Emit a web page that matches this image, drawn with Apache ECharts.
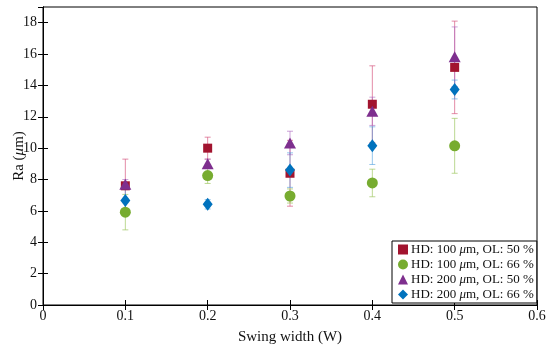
<!DOCTYPE html>
<html>
<head>
<meta charset="utf-8">
<script src="https://cdn.jsdelivr.net/npm/echarts@6/dist/echarts.min.js"></script>
<style>html,body{margin:0;padding:0;background:#fff}#c{width:550px;height:352px}</style>
</head>
<body>
<div id="c"></div>
<script>
var xValues = [0.1, 0.2, 0.3, 0.4, 0.5];
var xTicks = [0, 0.1, 0.2, 0.3, 0.4, 0.5, 0.6];
var yTicks = [0, 2, 4, 6, 8, 10, 12, 14, 16, 18];
var seriesNames = ['HD: 100 μm, OL: 50 %', 'HD: 100 μm, OL: 66 %', 'HD: 200 μm, OL: 50 %', 'HD: 200 μm, OL: 66 %'];
var hd100ol50 = [7.6, 10.0, 8.4, 12.8, 15.15];
var hd100ol66 = [5.92, 8.25, 6.95, 7.78, 10.15];
var hd200ol50 = [7.7, 9.0, 10.33, 12.35, 15.83];
var hd200ol66 = [6.66, 6.42, 8.6, 10.16, 13.74];
var err100ol50 = [1.7, 0.7, 2.1, 2.45, 2.95];
var err100ol66 = [1.13, 0.5, 0.45, 0.88, 1.75];
var err200ol50 = [0.3, 0.3, 0.75, 0.9, 1.9];
var err200ol66 = [0.7, 0.3, 1.1, 1.2, 0.6];

var colors = ['#A2142F', '#77AC30', '#7E2F8E', '#0072BD'];
var errColors = ['rgba(215,90,130,0.7)', 'rgba(160,200,100,0.7)', 'rgba(170,100,190,0.6)', 'rgba(60,150,220,0.55)'];
var symbols = ['rect', 'circle', 'triangle', 'diamond'];
var sizes = [[9, 9], [11, 11], [12, 11], [10, 13]];
var means = [hd100ol50, hd100ol66, hd200ol50, hd200ol66];
var errs = [err100ol50, err100ol66, err200ol50, err200ol66];

function labelRich(name) {
  return name.replace('μ', '{i|μ}');
}

var series = [];
means.forEach(function (m, s) {
  var data = xValues.map(function (x, i) { return [x, m[i], errs[s][i]]; });
  series.push({
    type: 'custom',
    name: 'err' + s,
    z: 1,
    silent: true,
    data: data,
    renderItem: function (params, api) {
      var x = api.value(0), y = api.value(1), e = api.value(2);
      var top = api.coord([x, y + e]);
      var bot = api.coord([x, y - e]);
      var hw = 3;
      var st = { stroke: errColors[s], lineWidth: 1 };
      return {
        type: 'group',
        children: [
          { type: 'line', shape: { x1: top[0], y1: top[1], x2: bot[0], y2: bot[1] }, style: st },
          { type: 'line', shape: { x1: top[0] - hw, y1: top[1], x2: top[0] + hw, y2: top[1] }, style: st },
          { type: 'line', shape: { x1: bot[0] - hw, y1: bot[1], x2: bot[0] + hw, y2: bot[1] }, style: st }
        ]
      };
    }
  });
});
means.forEach(function (m, s) {
  series.push({
    type: 'scatter',
    name: seriesNames[s],
    z: 5,
    symbol: symbols[s],
    symbolSize: sizes[s],
    itemStyle: { color: colors[s], opacity: 1 },
    data: xValues.map(function (x, i) { return [x, m[i]]; })
  });
});

var font = 'Liberation Serif';
var chart = echarts.init(document.getElementById('c'));
chart.setOption({
  animation: false,
  backgroundColor: '#fff',
  grid: { left: 43, right: 13, top: 7, bottom: 47, show: true, borderColor: '#000', borderWidth: 1, containLabel: false, outerBoundsMode: 'none' },
  legend: {
    data: seriesNames.map(function (n, s) { return { name: n, icon: symbols[s] }; }),
    orient: 'vertical',
    left: 392, top: 241,
    itemWidth: 10, itemHeight: 10, itemGap: 2,
    padding: [2, 3, 2, 6],
    borderColor: '#000', borderWidth: 1,
    backgroundColor: '#fff',
    formatter: labelRich,
    textStyle: { fontFamily: font, fontSize: 13, lineHeight: 11, color: '#111', padding: [0, 0, 0, -2],
      rich: { i: { fontFamily: font, fontStyle: 'italic', fontSize: 13, lineHeight: 11 } } }
  },
  xAxis: [{
    type: 'value', min: 0, max: 0.6, interval: 0.1,
    name: 'Swing width (W)', nameLocation: 'middle', nameGap: 25, nameMoveOverlap: false,
    nameTextStyle: { fontFamily: font, fontSize: 15, color: '#111' },
    axisLine: { show: true, lineStyle: { color: '#000' } },
    axisTick: { show: true, inside: true, length: 5, lineStyle: { color: '#000' } },
    axisLabel: { fontFamily: font, fontSize: 14, color: '#111', margin: 4,
      formatter: function (v) { var t = xTicks.find(function (q) { return Math.abs(q - v) < 1e-9; }); return t === undefined ? '' : String(t); } },
    splitLine: { show: false }
  }, {
    type: 'value', min: 0, max: 0.6, interval: 0.1, position: 'top',
    axisLine: { show: true, lineStyle: { color: '#000' } },
    axisTick: { show: true, inside: true, length: 5, lineStyle: { color: '#000' } },
    axisLabel: { show: false }, splitLine: { show: false }
  }],
  yAxis: [{
    type: 'value', min: 0, max: 19, interval: 2,
    name: 'Ra ({i|μ}m)', nameLocation: 'middle', nameGap: 16, nameMoveOverlap: false,
    nameTextStyle: { fontFamily: font, fontSize: 15, color: '#111',
      rich: { i: { fontFamily: font, fontStyle: 'italic', fontSize: 15 } } },
    axisLine: { show: true, lineStyle: { color: '#000' } },
    axisTick: { show: true, inside: true, length: 5, lineStyle: { color: '#000' } },
    axisLabel: { fontFamily: font, fontSize: 14, color: '#111', margin: 6, showMaxLabel: false,
      formatter: function (v) { return yTicks.indexOf(v) >= 0 ? String(v) : ''; } },
    splitLine: { show: false }
  }, {
    type: 'value', min: 0, max: 19, interval: 2, position: 'right',
    axisLine: { show: true, lineStyle: { color: '#000' } },
    axisTick: { show: true, inside: true, length: 5, lineStyle: { color: '#000' } },
    axisLabel: { show: false }, splitLine: { show: false }
  }],
  series: series
});
</script>
</body>
</html>
